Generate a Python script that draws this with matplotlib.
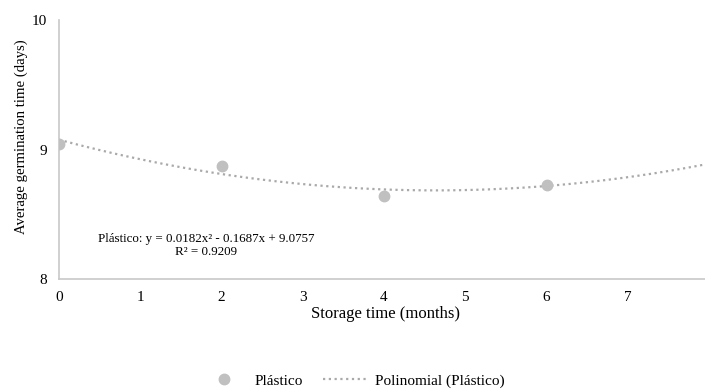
import matplotlib.pyplot as plt
import numpy as np

plt.rcParams['font.family'] = ['Liberation Serif', 'DejaVu Serif']

# data
months = [0, 2, 4, 6]
germ_days = [9.045, 8.873, 8.64, 8.726]
# trendline coefficients as printed on the chart (a, b, c)
poly_coef = [0.0182, -0.1687, 9.0757]
r2 = 0.9209

fig = plt.figure(figsize=(7.05, 3.92), dpi=100)
ax = fig.add_axes([0.0837, 0.288, 0.922, 0.661])

xs = np.linspace(0, 8, 200)
ax.plot(xs, np.polyval(poly_coef, xs), ls=(0, (1, 1.6)), color='#a9a9a9', lw=1.6,
        label='Polinomial (Plástico)', zorder=2)
ax.plot(months, germ_days, 'o', color='#c0c0c0', ms=7.5, label='Plástico', zorder=3)

ax.set_xlim(0, 8)
ax.set_ylim(8, 10)
ax.set_xticks(range(0, 9))
ax.set_yticks([8, 9, 10])
ax.tick_params(length=0, labelsize=11, colors='#000000')
ax.tick_params(axis='y', pad=8.5)
ax.tick_params(axis='x', pad=8.5)
for s in ['top', 'right']:
    ax.spines[s].set_visible(False)
for s in ['left', 'bottom']:
    ax.spines[s].set_color('#c8c8c8')
    ax.spines[s].set_linewidth(1.2)

ax.set_xlabel('Storage time (months)', fontsize=12)
ax.set_ylabel('Average germination time (days)', fontsize=10.6)
ax.xaxis.set_label_coords(0.502, -0.105)
ax.yaxis.set_label_coords(-0.047, 0.55)

eq = 'Plástico: y = %.4fx² - %.4fx + %.4f\nR² = %.4f' % (
    poly_coef[0], -poly_coef[1], poly_coef[2], r2)
ax.text(1.81, 8.26, eq, ha='center', va='center', fontsize=9.4, linespacing=1.2)

handles, labels = ax.get_legend_handles_labels()
fig.legend(handles[::-1], labels[::-1], loc='center', bbox_to_anchor=(0.501, 0.028),
           ncol=2, frameon=False, fontsize=11, handlelength=3.0, columnspacing=1.3,
           handletextpad=0.45)

fig.savefig('out.png', dpi=100)
